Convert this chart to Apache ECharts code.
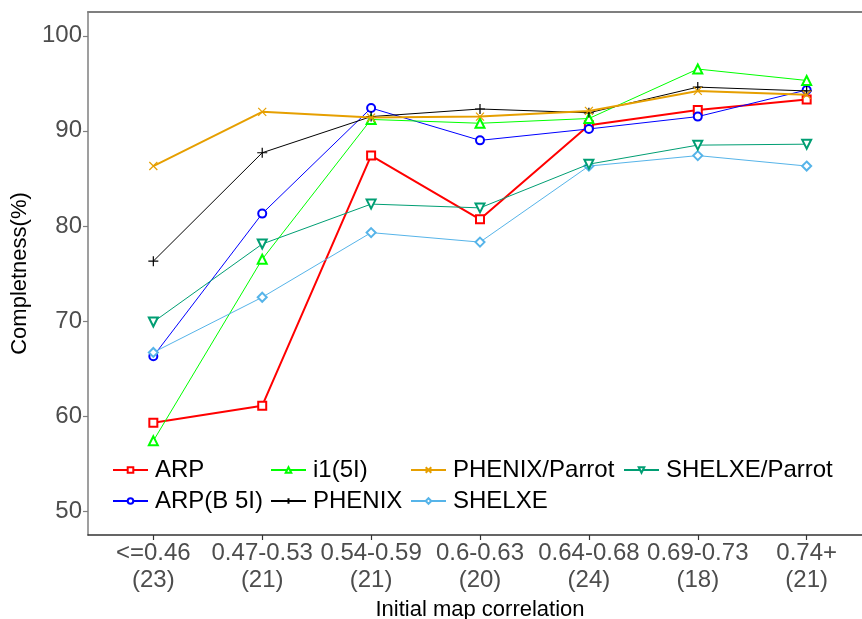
<!DOCTYPE html>
<html>
<head>
<meta charset="utf-8">
<script src="https://cdn.jsdelivr.net/npm/echarts@6/dist/echarts.min.js"></script>
<style>html,body{margin:0;padding:0;background:#fff;}#c{width:862px;height:619px;}</style>
</head>
<body>
<div id="c"></div>
<script>
const categories = ['<=0.46\n(23)', '0.47-0.53\n(21)', '0.54-0.59\n(21)', '0.6-0.63\n(20)', '0.64-0.68\n(24)', '0.69-0.73\n(18)', '0.74+\n(21)'];
const yTicks = [50, 60, 70, 80, 90, 100];
const seriesNames = ['ARP', 'ARP(B 5I)', 'i1(5I)', 'PHENIX', 'PHENIX/Parrot', 'SHELXE', 'SHELXE/Parrot'];
const ARP = [59.3, 61.1, 87.4, 80.7, 90.6, 92.2, 93.3];
const ARP_B5I = [66.3, 81.3, 92.4, 89.0, 90.2, 91.5, 94.3];
const i1_5I = [57.4, 76.5, 91.2, 90.8, 91.3, 96.5, 95.3];
const PHENIX = [76.3, 87.7, 91.5, 92.3, 91.9, 94.6, 94.2];
const PHENIX_Parrot = [86.3, 92.0, 91.4, 91.5, 92.1, 94.2, 93.8];
const SHELXE = [66.7, 72.5, 79.3, 78.3, 86.3, 87.4, 86.3];
const SHELXE_Parrot = [69.9, 78.1, 82.3, 81.9, 86.5, 88.5, 88.6];

const values = [ARP, ARP_B5I, i1_5I, PHENIX, PHENIX_Parrot, SHELXE, SHELXE_Parrot];
const colors = ['#FF0000', '#0000FF', '#00FF00', '#000000', '#E69F00', '#56B4E9', '#009E73'];
const widths = [2, 1, 1, 1, 2, 1, 1];
const symbols = ['emptyRect', 'emptyCircle', 'emptyTriangle', 'path://M5,0L5,10M0,5L10,5', 'path://M0,0L10,10M0,10L10,0', 'emptyDiamond', 'emptyTriangle'];
const symSizes = [8, 8, 9, 10, 8, 9, 9];
const rotates = [0, 0, 0, 0, 0, 0, 180];

const FONT = 'Liberation Sans, Arial, sans-serif';
const idx = categories.map((_, i) => i);

const series = seriesNames.map((n, k) => ({
  name: n,
  type: 'line',
  data: values[k].map((v, i) => [i, v]),
  symbol: symbols[k],
  symbolSize: symSizes[k],
  symbolRotate: rotates[k],
  showAllSymbol: true,
  lineStyle: { color: colors[k], width: widths[k] },
  itemStyle: { color: colors[k], borderColor: colors[k], borderWidth: 1.2 },
  emphasis: { disabled: true },
  z: 2 + k
}));

const legendCols = [['ARP', 'ARP(B 5I)'], ['i1(5I)', 'PHENIX'], ['PHENIX/Parrot', 'SHELXE'], ['SHELXE/Parrot']];
const legendLeft = [112, 270, 410, 623];
const legends = legendCols.map((d, i) => ({
  data: d,
  orient: 'vertical',
  left: legendLeft[i],
  top: 458,
  padding: 0,
  itemWidth: 35,
  itemHeight: 7,
  itemGap: 7,
  selectedMode: false,
  textStyle: { fontFamily: FONT, fontSize: 24, color: '#000', lineHeight: 24, padding: [0, 0, 0, 2] }
}));

const chart = echarts.init(document.getElementById('c'), null, { renderer: 'canvas' });
chart.setOption({
  animation: false,
  backgroundColor: '#ffffff',
  legend: legends,
  grid: { left: 88, right: -10, top: 12, bottom: 84, containLabel: false, outerBoundsMode: 'none' },
  xAxis: [{
    type: 'value', min: -0.6, max: 6.6, position: 'bottom',
    name: 'Initial map correlation', nameLocation: 'middle', nameGap: 55,
    nameTextStyle: { fontFamily: FONT, fontSize: 22, color: '#000' },
    axisLine: { show: true, onZero: false, lineStyle: { color: '#333', width: 1.5 } },
    axisTick: { show: true, length: 5, customValues: idx, lineStyle: { color: '#333', width: 1.2 } },
    axisLabel: { customValues: idx, formatter: v => categories[Math.round(v)], fontFamily: FONT, fontSize: 24, color: '#4D4D4D', lineHeight: 27, margin: 5 },
    splitLine: { show: false }
  }, {
    type: 'value', min: -0.6, max: 6.6, position: 'top',
    axisLine: { show: true, onZero: false, lineStyle: { color: '#7F7F7F', width: 2 } },
    axisTick: { show: false }, axisLabel: { show: false }, splitLine: { show: false }
  }],
  yAxis: {
    type: 'value', min: 47.5, max: 102.5,
    name: 'Completness(%)', nameLocation: 'middle', nameGap: 53, nameRotate: 90,
    nameTextStyle: { fontFamily: FONT, fontSize: 22, color: '#000' },
    axisLine: { show: true, onZero: false, lineStyle: { color: '#7F7F7F', width: 1.5 } },
    axisTick: { show: true, length: 5, customValues: yTicks, lineStyle: { color: '#7F7F7F', width: 1.2 } },
    axisLabel: { customValues: yTicks, fontFamily: FONT, fontSize: 24, color: '#4D4D4D', margin: 6 },
    splitLine: { show: false }
  },
  series: series
});
</script>
</body>
</html>
